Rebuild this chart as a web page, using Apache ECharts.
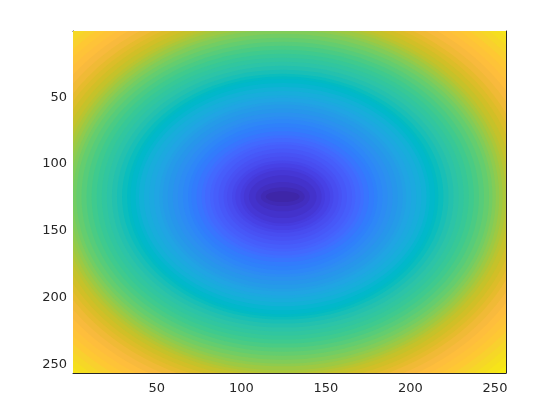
<!DOCTYPE html>
<html>
<head>
<meta charset="utf-8">
<style>
html,body{margin:0;padding:0;background:#fff;}
#main{width:560px;height:420px;}
</style>
</head>
<body>
<div id="main"></div>
<script src="https://cdn.jsdelivr.net/npm/echarts@6/dist/echarts.min.js"></script>
<script>
// tick labels of the image axes
var tickValues = [50, 100, 150, 200, 250]
var axisMin = 0.5
var axisMax = 256.5
// where the dark middle sits
var centerX = 124.5
var centerY = 124.5
// colour of each level, darkest first
var levelColors = ['#3e26a8','#402ab4','#422ec0','#4332cb','#4537d5','#463cde','#4741e5','#4747eb','#484df0','#4852f4','#4758f8','#465efb','#4563fd','#4269fe','#3e6fff','#3875fe','#327cfc','#2f81fa','#2e87f7','#2d8cf3','#2b91ef','#2796eb','#259be8','#23a0e5','#20a5e3','#1ca9df','#18addb','#12b1d6','#08b5d0','#01b8ca','#02bac3','#0bbdbd','#19bfb6','#24c1ae','#2cc4a7','#31c69f','#37c897','#3fca8e','#4acb84','#57cc7a','#64cd6f','#72cd64','#81cc59','#8fcb4e','#9dc943','#abc739','#b9c431','#c5c22a','#d1bf27','#dcbd29','#e6bb2d','#f0ba36','#f8ba3d','#febe3c','#fec338','#fec833','#f9d02e','#f6d727','#f5de1f','#f6e419','#f7ec10','#f9fb15']
// how far each level reaches from the middle, read along the row and column through it
var levelReachX = [10,13,16,20,23,25,28,30,33,35,38,41,43,46,48,51,54,56,59,62,65,68,71,73,76,79,82,85,87,90,92,95,98,101,104,107,110,113,116,119,122,124,126,128,130,132,134,137,140,143,146,150,154,158,162,166,170,174,178,182,186,230]
var levelReachY = [4,7,11,16,20,22,25,27,30,33,36,39,41,44,46,49,52,55,58,60,63,66,69,71,74,76,79,82,85,88,90,92,95,98,101,104,107,110,113,116,119,122,125,127,130,132,134,137,140,143,146,150,154,158,162,166,170,174,178,183,188,225]

var levelData = []
for (var i = levelColors.length - 1; i >= 0; i--) {
    levelData.push([centerX, centerY, levelReachX[i], levelReachY[i], i])
}

function drawLevel(params, api) {
    var c = api.coord([api.value(0), api.value(1)])
    var s = api.size([api.value(2), api.value(3)])
    return {
        type: 'ellipse',
        shape: { cx: c[0], cy: c[1], rx: s[0], ry: s[1] },
        style: { fill: levelColors[api.value(4)] }
    }
}

function imageAxis(position, showLabel, inverse, margin, padding) {
    return {
        type: 'value',
        position: position,
        inverse: inverse,
        min: axisMin,
        max: axisMax,
        splitLine: { show: false },
        axisLine: { show: true, onZero: false, lineStyle: { color: '#262626', width: 1 } },
        axisTick: { show: true, inside: true, length: 4, customValues: tickValues, lineStyle: { color: '#262626', width: 1 } },
        axisLabel: {
            show: showLabel,
            customValues: tickValues,
            color: '#262626',
            fontFamily: 'DejaVu Sans',
            fontSize: 13,
            margin: margin,
            padding: padding
        }
    }
}

var myChart = echarts.init(document.getElementById('main'), null, { renderer: 'canvas' })
myChart.setOption({
    animation: false,
    backgroundColor: '#fff',
    grid: { left: 73, top: 31, width: 433, height: 342 },
    xAxis: [imageAxis('bottom', true, false, 9, 0), imageAxis('top', false, false, 9, 0)],
    yAxis: [imageAxis('left', true, true, 6, [3, 0, 0, 0]), imageAxis('right', false, true, 6, 0)],
    series: [{
        type: 'custom',
        coordinateSystem: 'cartesian2d',
        clip: true,
        silent: true,
        renderItem: drawLevel,
        data: levelData,
        encode: { x: 0, y: 1 },
        z: 1
    }]
})
</script>
</body>
</html>
